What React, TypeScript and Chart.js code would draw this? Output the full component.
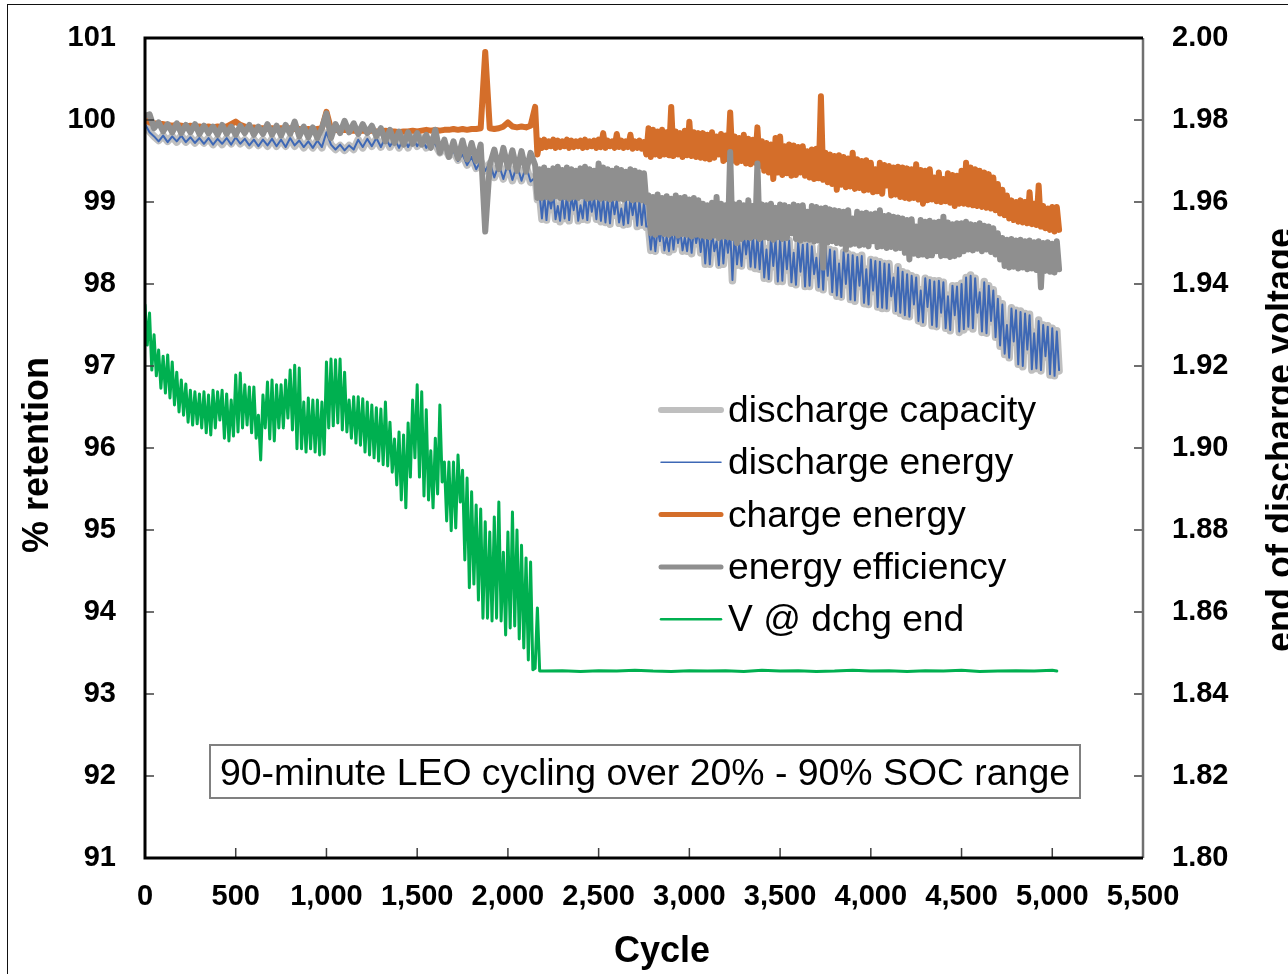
import React, { useEffect, useRef } from "react";
import { Chart, registerables } from "chart.js";

Chart.register(...registerables);

// Early part of the retention series: one sample every 25 cycles (0 .. 2125)
const earlyCycles: number[] = Array.from({ length: 86 }, (_, i) => i * 25);
// Later part (2150 .. 5025): each 25-cycle slot holds a high reading and, 12.5 cycles later, a low reading
const lateCycles: number[] = Array.from({ length: 116 }, (_, k) => 2150 + k * 25);
// Voltage series: every 12.5 cycles up to 2175, then every 100 cycles, plus the last cycle
const voltageCycles: number[] = [
  ...Array.from({ length: 175 }, (_, j) => j * 12.5),
  ...Array.from({ length: 29 }, (_, k) => 2200 + k * 100),
  5025,
];

const xTicks = [0, 500, 1000, 1500, 2000, 2500, 3000, 3500, 4000, 4500, 5000, 5500];
const leftTicks = [91, 92, 93, 94, 95, 96, 97, 98, 99, 100, 101];
const rightTicks = [1.8, 1.82, 1.84, 1.86, 1.88, 1.9, 1.92, 1.94, 1.96, 1.98, 2.0];

const seriesNames = [
  "discharge capacity",
  "discharge energy",
  "charge energy",
  "energy efficiency",
  "V @ dchg end",
];

// ---------- discharge capacity ----------
const capacityEarly = [
  100.02, 99.86, 99.8, 99.75, 99.81, 99.74, 99.8, 99.73, 99.81, 99.73,
  99.79, 99.72, 99.78, 99.72, 99.78, 99.7, 99.77, 99.7, 99.78, 99.71,
  99.79, 99.71, 99.76, 99.69, 99.76, 99.69, 99.76, 99.68, 99.77, 99.68,
  99.76, 99.68, 99.78, 99.68, 99.75, 99.66, 99.74, 99.66, 99.75, 99.66,
  99.84, 99.7, 99.64, 99.69, 99.63, 99.69, 99.64, 99.76, 99.66, 99.77,
  99.68, 99.77, 99.67, 99.79, 99.67, 99.77, 99.66, 99.78, 99.66, 99.79,
  99.68, 99.78, 99.66, 99.76, 99.7, 99.6, 99.67, 99.56, 99.62, 99.51,
  99.58, 99.45, 99.55, 99.41, 99.5, 99.38, 99.47, 99.3, 99.46, 99.28,
  99.47, 99.26, 99.45, 99.26, 99.44, 99.24,
];
const capacityHigh = [
  99.32,
  99.08, 99.1, 99.07, 99.1, 98.95, 99.06, 99.09, 99.08, 99.08, 98.96, 99.1, 99.07, 99.06, 99.09,
  99.05, 99.05, 99.06, 99.03, 98.93, 99.02, 99.04, 99.04, 99.02, 99.01,
  98.7, 98.69, 98.67, 98.69, 98.58, 98.68, 98.67, 98.66, 98.57, 98.66, 98.68, 98.65,
  98.67, 98.64, 98.66, 98.52, 98.65, 98.62, 98.65, 98.63, 98.51, 98.63, 98.6, 98.61, 98.59,
  98.58, 98.43, 98.57, 98.54, 98.56, 98.52, 98.53, 98.38, 98.51, 98.48, 98.5, 98.46, 98.33, 98.45, 98.45, 98.42,
  98.41, 98.25, 98.39, 98.37, 98.35, 98.33, 98.35, 98.18, 98.3, 98.29, 98.27, 98.25, 98.25, 98.09, 98.21,
  98.15, 98.13, 98.1, 98.08, 97.93, 98.07, 98.05, 98.04, 98.04, 98.02, 97.86, 97.98, 97.98,
  98.01, 98.08, 98.11, 98.07, 97.9, 98.03, 97.98, 97.93, 97.82,
  97.76, 97.51, 97.71, 97.68, 97.67, 97.64, 97.63, 97.41, 97.56, 97.5, 97.49, 97.46, 97.43,
];
const capacityLow = [
  99.03,
  98.79, 98.78, 98.91, 98.79, 98.76, 98.8, 98.77, 98.89, 98.77, 98.79, 98.78, 98.87, 98.79, 98.76,
  98.75, 98.73, 98.84, 98.74, 98.72, 98.73, 98.83, 98.7, 98.72, 98.69,
  98.41, 98.4, 98.51, 98.41, 98.39, 98.42, 98.49, 98.4, 98.4, 98.37, 98.49, 98.38,
  98.24, 98.24, 98.39, 98.23, 98.24, 98.37, 98.04, 98.23, 98.22, 98.35, 98.21, 98.19, 98.18,
  98.07, 98.06, 98.21, 98.03, 98.03, 98.17, 98.01, 97.99, 98.14, 97.97, 97.97, 98.11, 97.95, 97.93, 98.09, 97.9,
  97.85, 97.84, 97.99, 97.81, 97.79, 97.97, 97.76, 97.75, 97.91, 97.72, 97.7, 97.7, 97.84, 97.67, 97.64,
  97.61, 97.6, 97.74, 97.55, 97.52, 97.71, 97.49, 97.48, 97.64, 97.46, 97.43, 97.61, 97.41,
  97.44, 97.48, 97.45, 97.64, 97.41, 97.4, 97.54, 97.35, 97.24,
  97.14, 97.1, 97.29, 97.02, 96.99, 97.19, 96.95, 96.97, 96.94, 97.11, 96.89, 96.88, 96.94,
];

// ---------- discharge energy ----------
const energyEarly = [
  99.95, 99.85, 99.8, 99.74, 99.81, 99.73, 99.8, 99.74, 99.81, 99.73,
  99.79, 99.72, 99.78, 99.71, 99.78, 99.7, 99.77, 99.71, 99.78, 99.7,
  99.79, 99.71, 99.77, 99.69, 99.76, 99.68, 99.76, 99.69, 99.77, 99.68,
  99.76, 99.67, 99.78, 99.69, 99.75, 99.67, 99.74, 99.66, 99.75, 99.67,
  99.85, 99.7, 99.64, 99.7, 99.63, 99.69, 99.64, 99.76, 99.67, 99.77,
  99.68, 99.78, 99.67, 99.79, 99.68, 99.77, 99.66, 99.78, 99.67, 99.79,
  99.68, 99.78, 99.66, 99.75, 99.7, 99.6, 99.68, 99.56, 99.62, 99.5,
  99.58, 99.45, 99.55, 99.4, 99.5, 99.38, 99.48, 99.3, 99.46, 99.28,
  99.47, 99.27, 99.45, 99.26, 99.44, 99.25,
];
const energyHigh = [
  99.3,
  99.08, 99.09, 99.07, 99.1, 98.95, 99.06, 99.09, 99.07, 99.08, 98.96, 99.09, 99.07, 99.06, 99.08,
  99.05, 99.04, 99.06, 99.03, 98.92, 99.02, 99.04, 99.03, 99.02, 99.0,
  98.7, 98.68, 98.67, 98.69, 98.58, 98.68, 98.67, 98.65, 98.57, 98.66, 98.67, 98.65,
  98.66, 98.64, 98.66, 98.52, 98.65, 98.62, 98.64, 98.63, 98.5, 98.62, 98.6, 98.61, 98.58,
  98.58, 98.42, 98.57, 98.54, 98.55, 98.52, 98.53, 98.38, 98.51, 98.48, 98.49, 98.46, 98.32, 98.44, 98.45, 98.42,
  98.4, 98.25, 98.39, 98.36, 98.35, 98.33, 98.34, 98.18, 98.3, 98.28, 98.27, 98.25, 98.24, 98.08, 98.2,
  98.15, 98.12, 98.1, 98.08, 97.92, 98.07, 98.05, 98.03, 98.04, 98.02, 97.85, 97.98, 97.97,
  98.0, 98.08, 98.1, 98.07, 97.9, 98.02, 97.98, 97.92, 97.82,
  97.75, 97.5, 97.7, 97.68, 97.66, 97.64, 97.62, 97.4, 97.55, 97.5, 97.48, 97.46, 97.42,
];
const energyLow = [
  99.05,
  98.8, 98.78, 98.92, 98.79, 98.77, 98.8, 98.78, 98.9, 98.77, 98.8, 98.78, 98.88, 98.79, 98.77,
  98.75, 98.74, 98.85, 98.75, 98.72, 98.74, 98.84, 98.71, 98.72, 98.7,
  98.42, 98.4, 98.52, 98.41, 98.4, 98.42, 98.5, 98.41, 98.4, 98.38, 98.5, 98.39,
  98.25, 98.24, 98.4, 98.23, 98.25, 98.38, 98.05, 98.24, 98.22, 98.36, 98.21, 98.2, 98.18,
  98.08, 98.06, 98.22, 98.03, 98.04, 98.18, 98.02, 97.99, 98.15, 97.97, 97.98, 98.12, 97.96, 97.93, 98.1, 97.9,
  97.86, 97.84, 98.0, 97.81, 97.8, 97.98, 97.77, 97.75, 97.92, 97.72, 97.71, 97.7, 97.85, 97.67, 97.65,
  97.62, 97.6, 97.75, 97.55, 97.53, 97.72, 97.5, 97.48, 97.65, 97.46, 97.44, 97.62, 97.42,
  97.45, 97.48, 97.46, 97.65, 97.42, 97.4, 97.55, 97.35, 97.25,
  97.15, 97.1, 97.3, 97.02, 97.0, 97.2, 96.96, 96.97, 96.95, 97.12, 96.9, 96.88, 96.95,
];

// ---------- charge energy ----------
const chargeEarly = [
  100.0, 99.97, 99.96, 99.95, 99.95, 99.94, 99.93, 99.94, 99.93, 99.92,
  99.93, 99.92, 99.92, 99.91, 99.92, 99.91, 99.92, 99.91, 99.92, 99.95,
  99.98, 99.94, 99.92, 99.9, 99.91, 99.9, 99.9, 99.89, 99.9, 99.89,
  99.9, 99.89, 99.9, 99.89, 99.89, 99.88, 99.89, 99.88, 99.89, 99.9,
  100.1, 99.89, 99.88, 99.87, 99.88, 99.87, 99.87, 99.86, 99.87, 99.86,
  99.87, 99.86, 99.86, 99.87, 99.86, 99.86, 99.85, 99.86, 99.86, 99.87,
  99.86, 99.87, 99.88, 99.87, 99.88, 99.87, 99.88, 99.88, 99.89, 99.88,
  99.89, 99.88, 99.89, 99.89, 99.9, 100.83, 99.9, 99.89, 99.9, 99.92,
  99.97, 99.92, 99.91, 99.92, 99.91, 99.93,
];
const chargeHigh = [
  100.16,
  99.75, 99.76, 99.74, 99.76, 99.75, 99.74, 99.76, 99.75, 99.74, 99.75, 99.76, 99.74, 99.75, 99.76,
  99.84, 99.75, 99.74, 99.83, 99.75, 99.74, 99.82, 99.74, 99.75, 99.73,
  99.9, 99.88, 99.86, 99.88, 99.85, 100.16, 99.86, 99.84, 99.87, 99.98, 99.85, 99.84,
  99.84, 99.82, 99.85, 99.8, 99.83, 99.81, 100.09, 99.8, 99.78, 99.82, 99.77, 99.76, 99.91,
  99.74, 99.72, 99.7, 99.78, 99.8, 99.68, 99.7, 99.69, 99.67, 99.68, 99.62, 99.64, 99.65,
  100.29,
  99.6, 99.58, 99.56, 99.57, 99.55, 99.53, 99.6, 99.52, 99.5, 99.51, 99.48, 99.4, 99.48, 99.45, 99.44, 99.42, 99.43,
  99.42, 99.41, 99.4, 99.46, 99.39, 99.38, 99.4, 99.3, 99.36, 99.28, 99.35, 99.33, 99.32,
  99.38, 99.48, 99.42, 99.4, 99.38, 99.36, 99.34,
  99.3, 99.22, 99.15, 99.08, 99.02, 99.0, 99.02, 99.0, 99.12, 98.98, 99.2, 98.95, 98.92, 98.94, 98.94,
];
const chargeLow = [
  99.58,
  99.66, 99.67, 99.68, 99.66, 99.67, 99.68, 99.66, 99.67, 99.68, 99.66, 99.67, 99.68, 99.66, 99.67,
  99.66, 99.68, 99.66, 99.67, 99.66, 99.67, 99.65, 99.66, 99.65, 99.58,
  99.55, 99.58, 99.56, 99.58, 99.57, 99.56, 99.58, 99.55, 99.57, 99.56, 99.55, 99.54,
  99.53, 99.52, 99.54, 99.58, 99.5, 99.52, 99.5, 99.48, 99.5, 99.47, 99.46, 99.48, 99.44,
  99.38, 99.36, 99.28, 99.36, 99.33, 99.35, 99.32, 99.33, 99.36, 99.32, 99.3, 99.28, 99.29,
  99.27,
  99.24, 99.22, 99.15, 99.21, 99.18, 99.19, 99.16, 99.17, 99.14, 99.15, 99.12, 99.13, 99.1, 99.2, 99.08, 99.09, 99.06,
  99.05, 99.04, 99.05, 99.03, 98.98, 99.02, 99.03, 99.01, 99.0, 99.01, 98.99, 98.95, 98.98,
  98.98, 98.97, 98.96, 98.95, 98.94, 98.93, 98.92,
  98.9, 98.86, 98.84, 98.8, 98.78, 98.76, 98.75, 98.74, 98.73, 98.72, 98.7, 98.68, 98.66, 98.64, 98.66,
];

// ---------- energy efficiency ----------
const efficiencyEarly = [
  100.05, 100.07, 99.9, 99.97, 99.86, 99.95, 99.85, 99.96, 99.84, 99.94,
  99.85, 99.95, 99.83, 99.93, 99.84, 99.92, 99.82, 99.94, 99.83, 99.92,
  99.82, 99.93, 99.84, 99.94, 99.82, 99.92, 99.83, 99.95, 99.82, 99.93,
  99.81, 99.94, 99.83, 99.98, 99.8, 99.92, 99.79, 99.91, 99.78, 99.9,
  100.08, 99.78, 99.95, 99.84, 99.99, 99.85, 99.96, 99.83, 99.95, 99.84,
  99.93, 99.8, 99.9, 99.74, 99.88, 99.72, 99.86, 99.7, 99.85, 99.71,
  99.84, 99.7, 99.82, 99.66, 99.88, 99.6, 99.76, 99.55, 99.74, 99.53,
  99.75, 99.52, 99.72, 99.5, 99.7, 98.64, 99.45, 99.64, 99.4, 99.66,
  99.42, 99.63, 99.38, 99.62, 99.37, 99.6,
];
const efficiencyHigh = [
  99.45,
  99.4, 99.42, 99.38, 99.41, 99.43, 99.39, 99.42, 99.4, 99.38, 99.41, 99.43, 99.4, 99.38, 99.47,
  99.42, 99.4, 99.38, 99.41, 99.39, 99.37, 99.4, 99.38, 99.36, 99.35,
  99.08, 99.06, 99.09, 99.05, 99.07, 99.04, 99.08, 99.05, 99.06, 99.03, 99.05, 99.02,
  98.98, 98.96, 98.99, 99.06, 98.98, 98.96, 99.61, 98.97, 98.99, 98.96, 99.02, 98.95, 99.47,
  98.97, 98.96, 98.98, 98.93, 98.97, 98.96, 98.94, 98.97, 98.95, 98.96, 98.88, 98.95, 98.94, 98.92, 98.93, 98.91,
  98.9, 98.89, 98.88, 98.9, 98.8, 98.88, 98.86, 98.87, 98.85, 98.86, 98.9, 98.83, 98.84, 98.82, 98.81,
  98.8, 98.78, 98.79, 98.7, 98.78, 98.76, 98.77, 98.75, 98.76, 98.82, 98.75, 98.73, 98.74,
  98.74, 98.76, 98.73, 98.72, 98.74, 98.71, 98.7, 98.68, 98.62,
  98.56, 98.54, 98.55, 98.53, 98.54, 98.52, 98.53, 98.51, 98.52, 98.5, 98.51, 98.49, 98.52,
];
const efficiencyLow = [
  99.05,
  99.05, 99.06, 99.04, 99.07, 99.05, 99.06, 99.04, 99.06, 99.05, 99.07, 99.04, 99.05, 99.06, 99.04,
  99.05, 99.03, 99.05, 99.04, 99.03, 99.05, 99.02, 99.03, 99.02, 99.0,
  98.62, 98.6, 98.63, 98.61, 98.6, 98.62, 98.59, 98.61, 98.6, 98.58, 98.6, 98.59,
  98.58, 98.57, 98.59, 98.56, 98.58, 98.57, 98.56, 98.5, 98.55, 98.57, 98.56, 98.58, 98.55,
  98.57, 98.56, 98.54, 98.57, 98.55, 98.56, 98.62, 98.55, 98.53, 98.55, 98.54, 98.52, 98.53, 98.2, 98.51, 98.52,
  98.5, 98.49, 98.42, 98.48, 98.49, 98.47, 98.48, 98.46, 98.52, 98.45, 98.46, 98.44, 98.45, 98.43, 98.44,
  98.38, 98.3, 98.37, 98.35, 98.36, 98.34, 98.35, 98.4, 98.34, 98.35, 98.33, 98.34, 98.36,
  98.4, 98.42, 98.41, 98.43, 98.4, 98.42, 98.39, 98.36, 98.3,
  98.22, 98.2, 98.21, 98.19, 98.2, 98.18, 98.19, 98.17, 97.96, 98.16, 98.15, 98.14, 98.18,
];

// ---------- end of discharge voltage (right axis) ----------
const endDischargeVoltage = [
  1.9349, 1.9251, 1.9329, 1.919, 1.9276, 1.9176, 1.9239, 1.9146, 1.9224, 1.9134,
  1.9227, 1.9122, 1.921, 1.9105, 1.9185, 1.9088, 1.9166, 1.908, 1.9156, 1.9063,
  1.9141, 1.9056, 1.9137, 1.9059, 1.9132, 1.9049, 1.9137, 1.9037, 1.9129, 1.9032,
  1.9141, 1.9049, 1.9137, 1.9068, 1.9141, 1.9024, 1.9132, 1.9017, 1.9117, 1.9029,
  1.9178, 1.9039, 1.9183, 1.9049, 1.9154, 1.9056, 1.9149, 1.9037, 1.9149, 1.9024,
  1.908, 1.8971, 1.9129, 1.9049, 1.9161, 1.9022, 1.9166, 1.9017, 1.9154, 1.9049,
  1.9154, 1.9049, 1.9166, 1.9073, 1.919, 1.9044, 1.9202, 1.8998, 1.9195, 1.8998,
  1.9112, 1.899, 1.9122, 1.8998, 1.9117, 1.899, 1.9117, 1.8983, 1.9112, 1.8985,
  1.921, 1.9049, 1.9217, 1.9054, 1.9215, 1.9061, 1.9217, 1.9044, 1.9185, 1.9039,
  1.9117, 1.9024, 1.9125, 1.9012, 1.9125, 1.9007, 1.912, 1.899, 1.9112, 1.8983,
  1.9105, 1.8976, 1.9098, 1.8968, 1.9095, 1.8959, 1.9112, 1.8956, 1.9063, 1.8941,
  1.9022, 1.891, 1.9039, 1.8873, 1.9032, 1.8854, 1.9061, 1.8929, 1.9117, 1.8976,
  1.9154, 1.8929, 1.9137, 1.8883, 1.9093, 1.8873, 1.8993, 1.8854, 1.9024, 1.8888,
  1.9105, 1.8917, 1.8966, 1.8822, 1.8966, 1.8798, 1.8966, 1.8805, 1.8983, 1.8868,
  1.8946, 1.8727, 1.8927, 1.8659, 1.8893, 1.8668, 1.8861, 1.8629, 1.8851, 1.8585,
  1.882, 1.8585, 1.8795, 1.8578, 1.8832, 1.8585, 1.8868, 1.8578, 1.8746, 1.8544,
  1.8795, 1.8561, 1.8844, 1.8566, 1.88, 1.8534, 1.8763, 1.8512, 1.8732, 1.8483,
  1.8722, 1.8459, 1.8463, 1.861, 1.8456,
  1.8456, 1.8457, 1.8455, 1.8457, 1.8456, 1.8458, 1.8456, 1.8455, 1.8457, 1.8456,
  1.8457, 1.8455, 1.8458, 1.8456, 1.8457, 1.8455, 1.8456, 1.8458, 1.8456, 1.8457,
  1.8455, 1.8457, 1.8456, 1.8458, 1.8455, 1.8456, 1.8457, 1.8456, 1.8458, 1.8456,
];

const boxText = "90-minute LEO cycling over 20% - 90% SOC range";
const xTitle = "Cycle";
const leftTitle = "% retention";
const rightTitle = "end of discharge voltage";

const FONT = "'Liberation Sans', Arial, Helvetica, sans-serif";

const colors = ["#BFBFBF", "#3E68B5", "#D46E2A", "#8F8F8F", "#00B050"];
const widths = [7.5, 2, 6, 6, 3];
const legendWidths = [6, 1.5, 5, 5, 2.5];

const bandPoints = (early: number[], high: number[], low: number[]) => [
  ...early.map((v, i) => ({ x: earlyCycles[i], y: v })),
  ...lateCycles.flatMap((c, k) => [
    { x: c, y: high[k] },
    { x: c + 12.5, y: low[k] },
  ]),
];

const decorPlugin = {
  id: "decor",
  afterDraw(chart: any) {
    const { ctx, chartArea: a, scales } = chart;
    ctx.save();

    // inward tick marks
    ctx.strokeStyle = "#404040";
    ctx.lineWidth = 1.5;
    ctx.beginPath();
    for (const v of leftTicks) {
      const y = scales.y.getPixelForValue(v);
      ctx.moveTo(a.left, y);
      ctx.lineTo(a.left + 9, y);
    }
    for (const v of rightTicks) {
      const y = scales.y1.getPixelForValue(v);
      ctx.moveTo(a.right - 9, y);
      ctx.lineTo(a.right, y);
    }
    for (const v of xTicks) {
      const x = scales.x.getPixelForValue(v);
      ctx.moveTo(x, a.bottom);
      ctx.lineTo(x, a.bottom - 10);
    }
    ctx.stroke();

    // plot frame
    ctx.strokeStyle = "#707070";
    ctx.lineWidth = 2.5;
    ctx.beginPath();
    ctx.moveTo(a.right, a.top);
    ctx.lineTo(a.right, a.bottom);
    ctx.stroke();
    ctx.strokeStyle = "#000";
    ctx.lineWidth = 3;
    ctx.beginPath();
    ctx.moveTo(a.right, a.top);
    ctx.lineTo(a.left, a.top);
    ctx.lineTo(a.left, a.bottom);
    ctx.lineTo(a.right, a.bottom);
    ctx.stroke();

    // axis titles
    ctx.fillStyle = "#000";
    ctx.font = `bold 36px ${FONT}`;
    ctx.textAlign = "center";
    ctx.textBaseline = "alphabetic";
    ctx.fillText(xTitle, 662, 962);
    ctx.save();
    ctx.translate(48, 455);
    ctx.rotate(-Math.PI / 2);
    ctx.fillText(leftTitle, 0, 0);
    ctx.restore();
    ctx.save();
    ctx.translate(1292, 440);
    ctx.rotate(-Math.PI / 2);
    ctx.fillText(rightTitle, 0, 0);
    ctx.restore();

    // legend
    ctx.font = `37.2px ${FONT}`;
    ctx.textAlign = "left";
    ctx.textBaseline = "alphabetic";
    seriesNames.forEach((name, i) => {
      const y = a.top + 372 + i * 52.3;
      ctx.strokeStyle = colors[i];
      ctx.lineWidth = legendWidths[i];
      ctx.lineCap = "round";
      ctx.beginPath();
      ctx.moveTo(a.left + 516, y);
      ctx.lineTo(a.left + 576, y);
      ctx.stroke();
      ctx.fillStyle = "#000";
      ctx.fillText(name, a.left + 583, y + 12);
    });

    // annotation box
    const bx = a.left + 65;
    const by = a.top + 707;
    ctx.fillStyle = "#fff";
    ctx.fillRect(bx, by, 870, 53);
    ctx.strokeStyle = "#808080";
    ctx.lineWidth = 2;
    ctx.strokeRect(bx, by, 870, 53);
    ctx.fillStyle = "#000";
    ctx.font = `37.4px ${FONT}`;
    ctx.fillText(boxText, bx + 10, by + 40);

    ctx.restore();
  },
};

export default function App() {
  const canvasRef = useRef<HTMLCanvasElement | null>(null);

  useEffect(() => {
    const canvas = canvasRef.current;
    if (!canvas) return;
    const pointSets = [
      bandPoints(capacityEarly, capacityHigh, capacityLow),
      bandPoints(energyEarly, energyHigh, energyLow),
      bandPoints(chargeEarly, chargeHigh, chargeLow),
      bandPoints(efficiencyEarly, efficiencyHigh, efficiencyLow),
      voltageCycles.map((c, k) => ({ x: c, y: endDischargeVoltage[k] })),
    ];
    const orders = [5, 4, 3, 2, 1];
    const tickFont = { family: FONT, size: 29, weight: "bold" as const };
    const chart = new Chart(canvas, {
      type: "line",
      data: {
        datasets: pointSets.map((pts, i) => ({
          label: seriesNames[i],
          data: pts,
          borderColor: colors[i],
          backgroundColor: colors[i],
          borderWidth: widths[i],
          pointRadius: 0,
          tension: 0,
          fill: false,
          borderJoinStyle: "round" as const,
          borderCapStyle: "round" as const,
          yAxisID: i === 4 ? "y1" : "y",
          order: orders[i],
        })),
      },
      options: {
        responsive: false,
        animation: false,
        events: [],
        layout: { padding: { top: 38, left: 0, right: 0, bottom: 0 } },
        plugins: { legend: { display: false }, tooltip: { enabled: false } },
        scales: {
          x: {
            type: "linear",
            min: 0,
            max: 5500,
            afterBuildTicks: (s: any) => {
              s.ticks = xTicks.map((v) => ({ value: v }));
            },
            afterFit: (s: any) => {
              s.height = 116;
              s.paddingLeft = 0;
              s.paddingRight = 0;
            },
            grid: { display: false, drawTicks: false },
            border: { display: false },
            ticks: {
              autoSkip: false,
              maxRotation: 0,
              minRotation: 0,
              padding: 22,
              color: "#000",
              font: tickFont,
              callback: (v: any) => Number(v).toLocaleString("en-US"),
            },
          },
          y: {
            type: "linear",
            position: "left",
            min: 91,
            max: 101,
            afterBuildTicks: (s: any) => {
              s.ticks = leftTicks.map((v) => ({ value: v }));
            },
            afterFit: (s: any) => {
              s.width = 145;
              s.paddingTop = 0;
              s.paddingBottom = 0;
            },
            grid: { display: false, drawTicks: false },
            border: { display: false },
            ticks: {
              padding: 29,
              color: "#000",
              font: tickFont,
              callback: (v: any) => String(v),
            },
          },
          y1: {
            type: "linear",
            position: "right",
            min: 1.8,
            max: 2.0,
            afterBuildTicks: (s: any) => {
              s.ticks = rightTicks.map((v) => ({ value: v }));
            },
            afterFit: (s: any) => {
              s.width = 145;
              s.paddingTop = 0;
              s.paddingBottom = 0;
            },
            grid: { display: false, drawTicks: false },
            border: { display: false },
            ticks: {
              padding: 29,
              color: "#000",
              font: tickFont,
              callback: (v: any) => Number(v).toFixed(2),
            },
          },
        },
      },
      plugins: [decorPlugin],
    });
    return () => chart.destroy();
  }, []);

  return (
    <>
      <div
        style={{
          position: "fixed",
          left: 7,
          top: 4,
          right: -20,
          bottom: -20,
          borderLeft: "1px solid #111",
          borderTop: "1px solid #111",
        }}
      />
      <canvas
        ref={canvasRef}
        width={1288}
        height={974}
        style={{ position: "fixed", left: 0, top: 0, width: 1288, height: 974 }}
      />
    </>
  );
}
